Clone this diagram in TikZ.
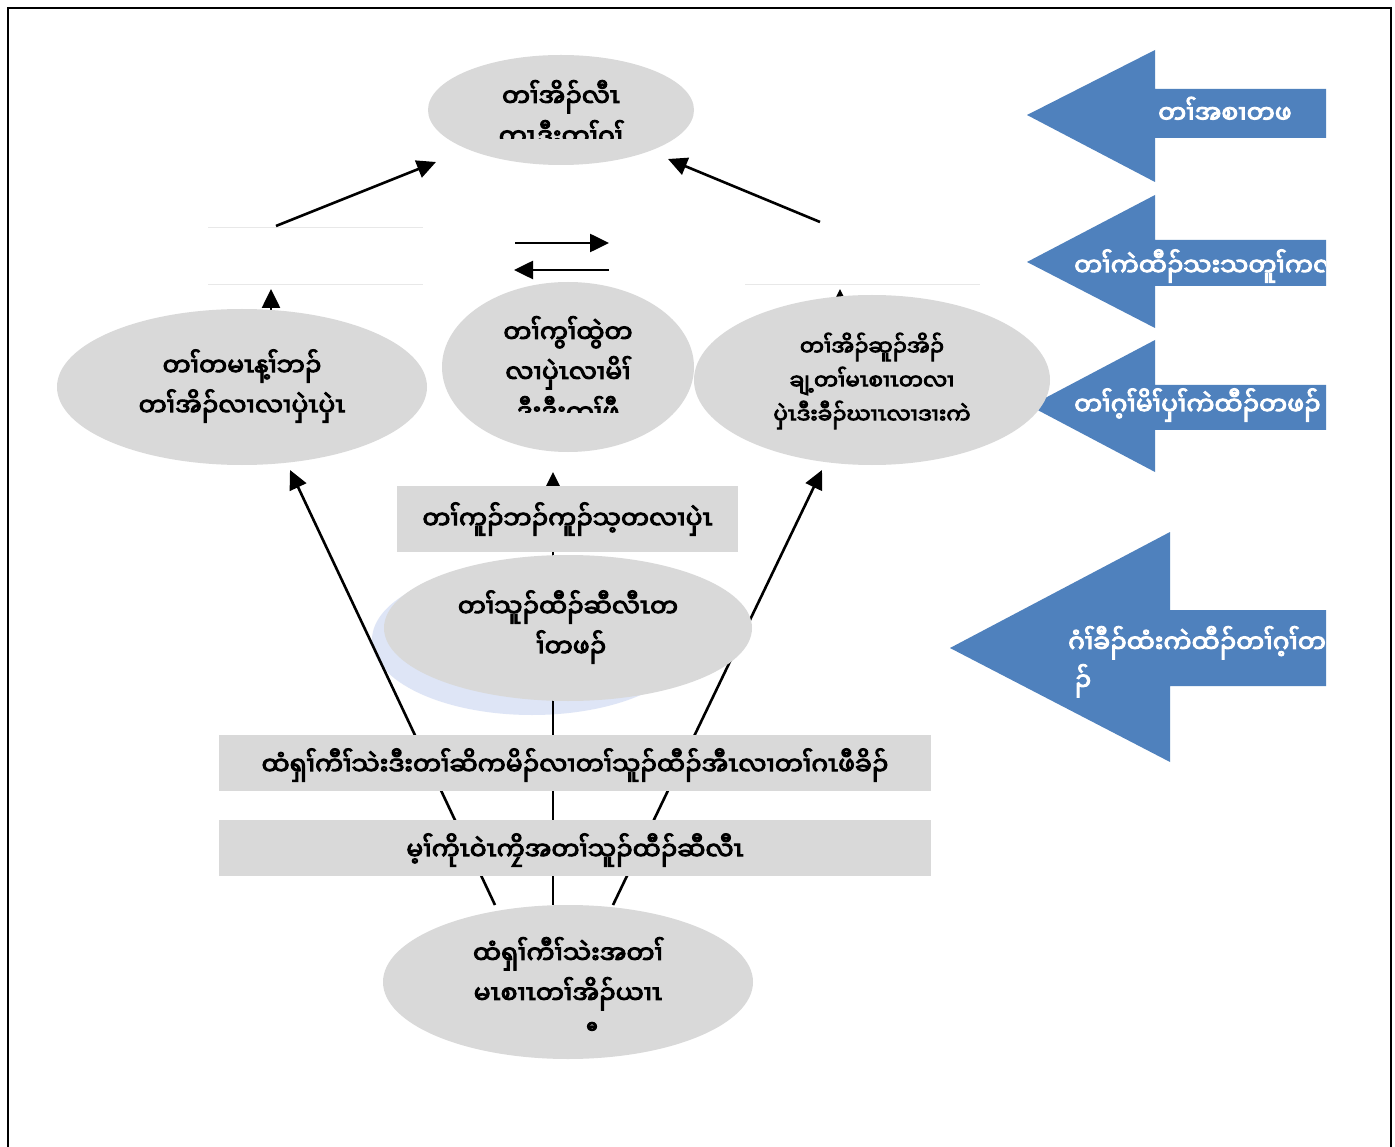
\documentclass[tikz,border=0pt]{standalone}
\usepackage{fontspec}
\newfontfamily\kar[Script=Myanmar,FakeBold=4]{Noto Sans Myanmar UI}
\usetikzlibrary{arrows.meta,shapes.geometric}
\definecolor{ellgray}{RGB}{217,217,217}
\definecolor{arrblue}{RGB}{79,129,189}
\definecolor{shadowblue}{RGB}{222,229,246}
\begin{document}
\begin{tikzpicture}[x=1pt,y=-1pt,
  ell/.style={ellipse, fill=ellgray, inner sep=0pt},
  gbox/.style={rectangle, fill=ellgray, inner sep=0pt},
  txt/.style={font=\kar\fontsize{25}{40}\selectfont, align=center, inner sep=0pt},
  wtxt/.style={font=\kar\fontsize{25}{38}\selectfont, text=white, align=left, inner sep=0pt, anchor=west},
  conn/.style={line width=2.6pt, -{Triangle[length=19pt,width=18pt]}},
  faint/.style={line width=1pt, draw=gray!18},
  barrow/.style={fill=arrblue}
]
\useasboundingbox (0,0) rectangle (1395,1147);
\fill[white] (0,0) rectangle (1395,1147);
\draw[line width=1.5pt] (8,1160) -- (8,8) -- (1391,8) -- (1391,1160);

% blue block arrows
\fill[barrow] (1027,115) -- (1155,50) -- (1155,89) -- (1326,89) -- (1326,138) -- (1155,138) -- (1155,182) -- cycle;
\fill[barrow] (1027,262) -- (1155,195) -- (1155,240) -- (1326,240) -- (1326,286) -- (1155,286) -- (1155,328) -- cycle;
\fill[barrow] (1030,406) -- (1155,340) -- (1155,385) -- (1326,385) -- (1326,430) -- (1155,430) -- (1155,472) -- cycle;
\fill[barrow] (950,648) -- (1170,532) -- (1170,610) -- (1326,610) -- (1326,686) -- (1170,686) -- (1170,762) -- cycle;
\begin{scope}
\clip (900,0) rectangle (1326,1147);
\node[wtxt] (a1) at (1158,110) {တၢ်အစၢတဖ};
\node[wtxt] (a2) at (1074,266) {တၢ်ကဲထီၣ်သးသတူၢ်ကလၢ};
\node[wtxt] (a3) at (1074,405) {တၢ်ဂ့ၢ်မိၢ်ပှၢ်ကဲထီၣ်တဖၣ်};
\node[wtxt, anchor=north west] (a4) at (1068,626) {ဂံၢ်ခီၣ်ထံးကဲထီၣ်တၢ်ဂ့ၢ်တဖ\\^^^^00a0ၣ်};
\end{scope}

% faint text-box borders
\draw[faint] (208,228) -- (423,228);
\draw[faint] (208,285) -- (423,285);
\draw[faint] (745,285) -- (980,285);

% coordinates for connectors
\coordinate (l1s) at (276,226);
\coordinate (l1e) at (436,162);
\coordinate (r1s) at (820,222);
\coordinate (r1e) at (668,159);
\coordinate (dra) at (515,243);
\coordinate (drb) at (609,243);
\coordinate (dla) at (609,270);
\coordinate (dlb) at (514,270);
\coordinate (lts) at (271,330);
\coordinate (lte) at (271,289);
\coordinate (rts) at (840,330);
\coordinate (rte) at (840,289);
\coordinate (bl) at (495,905);
\coordinate (bm) at (553,905);
\coordinate (br) at (613,905);
\coordinate (tl) at (290,470);
\coordinate (tm) at (553,472);
\coordinate (tr) at (822,470);

\draw[conn] (l1s) -- (l1e);
\draw[conn] (r1s) -- (r1e);
\draw[conn] (dra) -- (drb);
\draw[conn] (dla) -- (dlb);
\draw[conn] (lts) -- (lte);
\draw[conn] (rts) -- (rte);

% shadow of lower centre ellipse
\node[ellipse, fill=shadowblue, minimum width=320pt, minimum height=150pt, inner sep=0pt] (shadow) at (532,640) {};

\draw[conn] (bl) -- (tl);
\draw[conn] (bm) -- (tm);
\draw[conn] (br) -- (tr);

% ellipses
\node[ell, minimum width=266pt, minimum height=110pt] (top) at (561,110) {};
\node[ell, minimum width=370pt, minimum height=156pt] (left) at (242,387) {};
\node[ell, minimum width=252pt, minimum height=170pt] (mid) at (568,367) {};
\node[ell, minimum width=356pt, minimum height=170pt] (right) at (872,380) {};
\node[ell, minimum width=368pt, minimum height=146pt] (low) at (568,628) {};
\node[ell, minimum width=370pt, minimum height=154pt] (bot) at (568,982) {};

% boxes
\node[gbox, minimum width=341pt, minimum height=66pt] (kbox) at (567.5,519) {};
\node[txt] (ktxt) at (567.5,519) {တၢ်ကူၣ်ဘၣ်ကူၣ်သ့တလၢပှဲၤ};
\node[gbox, minimum width=712pt, minimum height=56pt] (box2) at (575,763) {};
\node[txt] (b2txt) at (575,765) {ထံရှၢ်ကီၢ်သဲးဒီးတၢ်ဆိကမိၣ်လၢတၢ်သူၣ်ထီၣ်အီၤလၢတၢ်ဂၤဖီခိၣ်};
\node[gbox, minimum width=712pt, minimum height=56pt] (box3) at (575,848) {};
\node[txt] (b3txt) at (575,850) {မ့ၢ်ကိုၤဝဲၤကၠိအတၢ်သူၣ်ထီၣ်ဆီလီၤ};

% ellipse texts
\begin{scope}
\clip (400,60) rectangle (720,139);
\node[txt, anchor=north] (ttxt) at (561,80) {တၢ်အိၣ်လီၤ\\ကၤဒီးတၢ်ဂ့ၢ်};
\end{scope}
\node[txt] (ltxt) at (242,386) {တၢ်တမၤန့ၢ်ဘၣ်\\တၢ်အိၣ်လၢလၢပှဲၤပှဲၤ};
\begin{scope}
\clip (440,300) rectangle (700,413);
\node[txt, anchor=north] (mtxt) at (568,316) {တၢ်ကွၢ်ထွဲတ\\လၢပှဲၤလၢမိၢ်\\ဒီးဒီးကၢ်ဖီ};
\end{scope}
\node[txt, font=\kar\fontsize{21.5}{34}\selectfont] (rtxt) at (872,381) {တၢ်အိၣ်ဆူၣ်အိၣ်\\ချ့တၢ်မၤစၢၤတလၢ\\ပှဲၤဒီးခီၣ်ဃၢၤလၢဒၢးကဲ};
\node[txt] (lowtxt) at (568,627) {တၢ်သူၣ်ထီၣ်ဆီလီၤတ\\^^^^00a0ၢ်တဖၣ်};
\begin{scope}
\clip (380,920) rectangle (760,1031);
\node[txt, anchor=north] (bottxt) at (568,937) {ထံရှၢ်ကီၢ်သဲးအတၢ်\\မၤစၢၤတၢ်အိၣ်ယၢၤ};
\node[txt, anchor=north] (botx) at (592,1022) {ဂီ};
\end{scope}
\end{tikzpicture}
\end{document}
